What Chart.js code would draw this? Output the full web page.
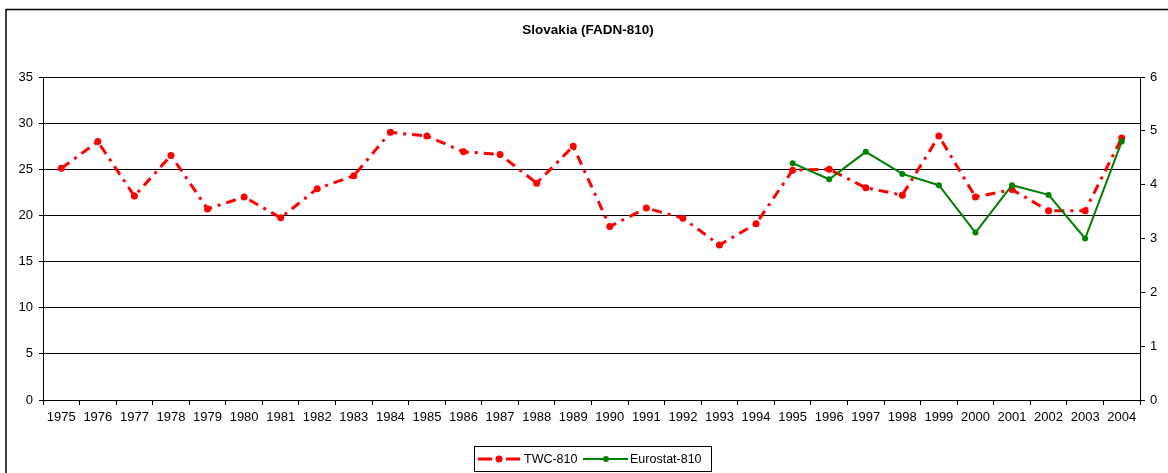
<!DOCTYPE html>
<html>
<head>
<meta charset="utf-8">
<script src="https://cdn.jsdelivr.net/npm/chart.js@4/dist/chart.umd.min.js"></script>
<style>
  html, body { margin: 0; padding: 0; background: #fff; }
  #grafico { display: block; }
</style>
</head>
<body>
<canvas id="grafico" width="1168" height="473"></canvas>
<script>
const anos = ['1975', '1976', '1977', '1978', '1979', '1980', '1981', '1982', '1983', '1984',
  '1985', '1986', '1987', '1988', '1989', '1990', '1991', '1992', '1993', '1994',
  '1995', '1996', '1997', '1998', '1999', '2000', '2001', '2002', '2003', '2004'];

// TWC-810, eixo esquerdo
const twc810 = [25.1, 28.0, 22.1, 26.5, 20.7, 22.0, 19.75, 22.9, 24.3, 29.0,
  28.6, 26.9, 26.6, 23.5, 27.5, 18.8, 20.8, 19.7, 16.8, 19.1,
  24.9, 25.0, 23.0, 22.2, 28.6, 22.0, 22.8, 20.5, 20.5, 28.4];

// Eurostat-810, eixo direito (so a partir de 1995)
const eurostat810 = [null, null, null, null, null, null, null, null, null, null,
  null, null, null, null, null, null, null, null, null, null,
  4.40, 4.10, 4.61, 4.20, 3.99, 3.11, 3.99, 3.81, 3.00, 4.80];

const titulo = 'Slovakia (FADN-810)';
const fonte = '"Liberation Sans", Arial, sans-serif';

const vermelho = '#ff0000';
const verde = '#008000';
const tracoTwc = [10, 6, 3, 6];

/* =========================
   MOLDURA + TITULO + LEGENDA
========================= */
const molduraPlugin = {
  id: 'moldura',
  beforeDraw(chart) {
    const c = chart.ctx;
    c.save();
    c.fillStyle = '#fff';
    c.fillRect(0, 0, chart.width, chart.height);
    c.strokeStyle = '#000';
    c.lineWidth = 1.5;
    c.beginPath();
    c.moveTo(6, chart.height);
    c.lineTo(6, 9.5);
    c.lineTo(chart.width, 9.5);
    c.stroke();
    c.restore();
  },
  afterDraw(chart) {
    const c = chart.ctx;
    c.save();
    c.fillStyle = '#000';
    c.font = 'bold 13.5px ' + fonte;
    c.textAlign = 'center';
    c.textBaseline = 'middle';
    c.fillText(titulo, 588, 30);

    // legenda
    c.fillStyle = '#fff';
    c.fillRect(474.5, 446.5, 237, 25);
    c.strokeStyle = '#000';
    c.lineWidth = 1;
    c.strokeRect(474.5, 446.5, 237, 25);

    const y = 459;
    c.strokeStyle = vermelho;
    c.lineWidth = 3;
    c.setLineDash([14, 14]);
    c.beginPath();
    c.moveTo(478, y);
    c.lineTo(521, y);
    c.stroke();
    c.setLineDash([]);
    c.fillStyle = vermelho;
    c.beginPath();
    c.arc(499, y, 3.5, 0, Math.PI * 2);
    c.fill();

    c.strokeStyle = verde;
    c.lineWidth = 2;
    c.beginPath();
    c.moveTo(583, y);
    c.lineTo(628, y);
    c.stroke();
    c.fillStyle = verde;
    c.beginPath();
    c.arc(606, y, 3, 0, Math.PI * 2);
    c.fill();

    c.fillStyle = '#000';
    c.font = '12.5px ' + fonte;
    c.textAlign = 'left';
    c.fillText('TWC-810', 524, y + 1);
    c.fillText('Eurostat-810', 630, y + 1);
    c.restore();
  }
};

new Chart(document.getElementById('grafico'), {
  type: 'line',
  data: {
    labels: anos,
    datasets: [
      {
        label: 'TWC-810',
        data: twc810,
        yAxisID: 'y',
        borderColor: vermelho,
        backgroundColor: vermelho,
        borderWidth: 3,
        borderDash: tracoTwc,
        pointRadius: 3.5,
        pointBorderWidth: 0,
        pointBackgroundColor: vermelho,
        tension: 0,
        order: 2
      },
      {
        label: 'Eurostat-810',
        data: eurostat810,
        yAxisID: 'y1',
        borderColor: verde,
        backgroundColor: verde,
        borderWidth: 2,
        pointRadius: 3,
        pointBorderWidth: 0,
        pointBackgroundColor: verde,
        tension: 0,
        spanGaps: false,
        order: 1
      }
    ]
  },
  options: {
    responsive: false,
    animation: false,
    layout: { padding: { top: 77, left: 0, right: 0, bottom: 0 } },
    plugins: {
      legend: { display: false },
      title: { display: false },
      tooltip: { enabled: false }
    },
    scales: {
      x: {
        offset: true,
        grid: { offset: true, drawOnChartArea: false, drawTicks: true, tickLength: 5, color: '#000' },
        border: { display: true, color: '#000' },
        ticks: {
          color: '#000',
          autoSkip: false,
          maxRotation: 0,
          padding: 5,
          font: { family: fonte, size: 13 }
        },
        afterFit: s => { s.height = 73; }
      },
      y: {
        position: 'left',
        min: 0,
        max: 35,
        ticks: {
          stepSize: 5,
          color: '#000',
          padding: 6,
          font: { family: fonte, size: 13 }
        },
        grid: { color: '#000', tickLength: 4 },
        border: { display: true, color: '#000' },
        afterFit: s => { s.width = 43; }
      },
      y1: {
        position: 'right',
        min: 0,
        max: 6,
        ticks: {
          stepSize: 1,
          color: '#000',
          padding: 5,
          font: { family: fonte, size: 13 }
        },
        grid: { drawOnChartArea: false, color: '#000', tickLength: 5 },
        border: { display: true, color: '#000' },
        afterFit: s => { s.width = 28; }
      }
    }
  },
  plugins: [molduraPlugin]
});
</script>
</body>
</html>
